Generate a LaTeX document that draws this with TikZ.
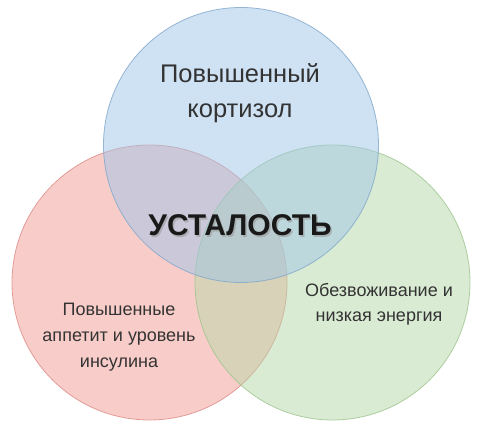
\documentclass[tikz,border=0pt]{standalone}
\usepackage{fontspec}
\setmainfont{Liberation Sans}
\usetikzlibrary{calc}

\definecolor{ringRed}{HTML}{F29C94}
\definecolor{ringRedEdge}{HTML}{DC8A84}
\definecolor{ringGreen}{HTML}{B6D7A8}
\definecolor{ringGreenEdge}{HTML}{9CC48C}
\definecolor{ringBlue}{HTML}{9FC5E8}
\definecolor{ringBlueEdge}{HTML}{7FA6CA}
\definecolor{textgrey}{HTML}{333333}

\begin{document}
\begin{tikzpicture}[x=1pt, y=-1pt,
    ring/.style={circle, minimum size=275pt, inner sep=0pt, draw=#1Edge, fill=#1, fill opacity=0.5, draw opacity=0.8, line width=0.8pt},
    txt/.style={text=textgrey, align=center, anchor=base}]
            \useasboundingbox (0, 0) rectangle (480, 430);
            % three circles
            \node[ring=ringRed] (appetite) at (149.5, 282.5) {};
            \node[ring=ringGreen] (energy) at (332.5, 282.5) {};
            \node[ring=ringBlue] (cortisol) at (241, 145) {};
            % captions, placed at the baseline of their last line
            \node[txt, font=\fontsize{25.5}{35}\selectfont] (cortisoltext) at (240, 118) {Повышенный\\кортизол};
            \node[txt, font=\fontsize{18}{26}\selectfont] (appetitetext) at (119, 368) {Повышенные\\аппетит и уровень\\инсулина};
            \node[txt, font=\fontsize{18}{25}\selectfont] (energytext) at (379, 322) {Обезвоживание и\\низкая энергия};
            % centre
            \coordinate (C) at (240, 236);
            \node[txt, text=black!40, opacity=0.6, font=\fontsize{30}{30}\bfseries] (fatigueshadow) at ($(C) + (1.5, 1.5)$) {УСТАЛОСТЬ};
            \node[txt, text=black!90, font=\fontsize{30}{30}\bfseries] (fatigue) at (C) {УСТАЛОСТЬ};
        \end{tikzpicture}
\end{document}
